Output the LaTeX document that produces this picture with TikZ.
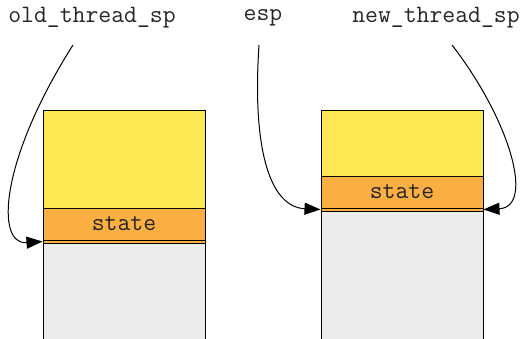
\documentclass[tikz,border=0pt]{standalone}
\usepackage{fontspec}
\usetikzlibrary{arrows.meta}
\definecolor{stackyellow}{RGB}{253,231,82}
\definecolor{stateorange}{RGB}{251,174,66}
\definecolor{stackgray}{RGB}{236,236,234}

\tikzset{
	box/.style={rectangle,draw,line width=1pt,inner sep=0pt,minimum width=162pt},
	lbltext/.style={font=\fontsize{25}{27}\selectfont\ttfamily,text=black!85,inner sep=0pt},
	ptr/.style={-{Triangle[length=16pt,width=12pt]},line width=1pt}
}

\begin{document}
\begin{tikzpicture}[x=1pt,y=-1pt]
				\clip (0,0) rectangle (523,338);
				\node (oldlbl) [lbltext] at (92,18) {old\_thread\_sp};
				\node (esplbl) [lbltext] at (263,18) {esp};
				\node (newlbl) [lbltext] at (436,18) {new\_thread\_sp};
				% old thread stack
				\node (oldfree) [box,fill=stackyellow,minimum height=98pt] at (124,159) {};
				\node (oldstate) [box,fill=stateorange,minimum height=32pt,lbltext] at (124,224) {state};
				\node (oldgap) [box,fill=stateorange,minimum height=3pt] at (124,241.5) {};
				\node (oldused) [box,fill=stackgray,minimum height=110pt] at (124,298) {};
				% new thread stack
				\node (newfree) [box,fill=stackyellow,minimum height=66pt] at (402,143) {};
				\node (newstate) [box,fill=stateorange,minimum height=32pt,lbltext] at (402,192) {state};
				\node (newgap) [box,fill=stateorange,minimum height=3pt] at (402,209.5) {};
				\node (newused) [box,fill=stackgray,minimum height=130pt] at (402,276) {};
				\coordinate (oldstart) at (73,45);
				\coordinate (espstart) at (259,45);
				\coordinate (newstart) at (452,45);
				\draw [ptr] (oldstart) .. controls (0,160) and (-5,245) .. (oldgap.west);
				\draw [ptr] (espstart) .. controls (252,150) and (270,207) .. (newgap.west);
				\draw [ptr] (newstart) .. controls (510,120) and (535,207) .. (newgap.east);
			\end{tikzpicture}
\end{document}
